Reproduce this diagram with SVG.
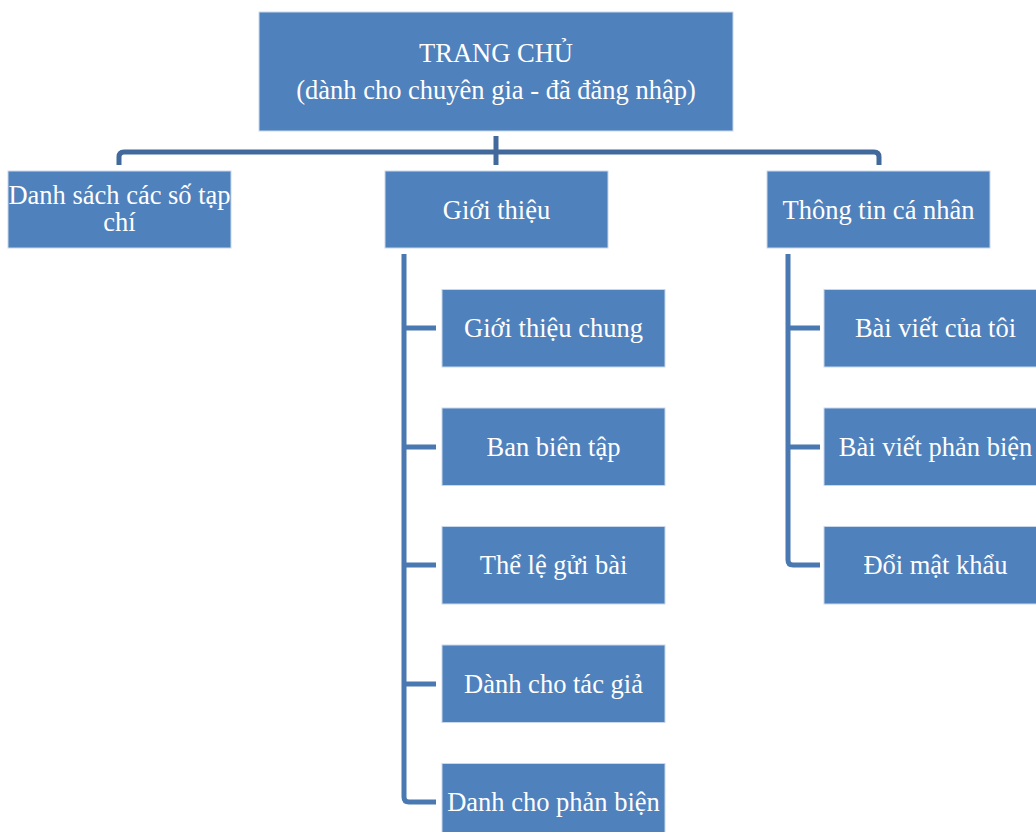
<svg xmlns="http://www.w3.org/2000/svg" width="1036" height="832" viewBox="0 0 1036 832">
  <style>
    .box { fill: #4f81bd; stroke: #c9d7ec; stroke-width: 1; }
    .lbl { font-family: "Liberation Serif", "Times New Roman", serif; font-size: 26.5px; fill: #ffffff; text-anchor: middle; }
    .trunk { fill: none; stroke: #41699b; stroke-width: 5; stroke-linejoin: round; }
    .branch { fill: none; stroke: #4a78b1; stroke-width: 5; stroke-linejoin: round; }
  </style>
  <rect width="1036" height="832" fill="#ffffff"/>

  <!-- connectors -->
  <g id="connectors">
    <path class="trunk" d="M119,165 V157 Q119,152 124,152 H874 Q879,152 879,157 V165"/>
    <path class="trunk" d="M496,136 V165"/>
    <!-- children of Giới thiệu -->
    <path class="branch" d="M404,254 V797 Q404,802 409,802 H436"/>
    <path class="branch" d="M404,328 H436 M404,447 H436 M404,565 H436 M404,684 H436"/>
    <!-- children of Thông tin cá nhân -->
    <path class="branch" d="M788,254 V560 Q788,565 793,565 H820"/>
    <path class="branch" d="M788,328 H820 M788,447 H820"/>
  </g>

  <g id="root">
    <rect class="box" x="259" y="12" width="474" height="119"/>
    <text class="lbl" x="496" y="62">TRANG CHỦ</text>
    <text class="lbl" x="496" y="99">(dành cho chuyên gia - đã đăng nhập)</text>
  </g>

  <g id="danh-sach">
    <rect class="box" x="8" y="171" width="223" height="77"/>
    <text class="lbl" x="119.5" y="204">Danh sách các số tạp</text>
    <text class="lbl" x="119.5" y="231">chí</text>
  </g>

  <g id="gioi-thieu">
    <rect class="box" x="385" y="171" width="223" height="77"/>
    <text class="lbl" x="496.5" y="219">Giới thiệu</text>
  </g>

  <g id="thong-tin">
    <rect class="box" x="767" y="171" width="223" height="77"/>
    <text class="lbl" x="878.5" y="219">Thông tin cá nhân</text>
  </g>

  <g id="gioi-thieu-chung">
    <rect class="box" x="442" y="289.5" width="223" height="77.5"/>
    <text class="lbl" x="553.5" y="337">Giới thiệu chung</text>
  </g>
  <g id="ban-bien-tap">
    <rect class="box" x="442" y="408" width="223" height="77.5"/>
    <text class="lbl" x="553.5" y="456">Ban biên tập</text>
  </g>
  <g id="the-le">
    <rect class="box" x="442" y="526.5" width="223" height="77.5"/>
    <text class="lbl" x="553.5" y="574">Thể lệ gửi bài</text>
  </g>
  <g id="tac-gia">
    <rect class="box" x="442" y="645" width="223" height="77.5"/>
    <text class="lbl" x="553.5" y="693">Dành cho tác giả</text>
  </g>
  <g id="phan-bien">
    <rect class="box" x="442" y="763.5" width="223" height="77.5"/>
    <text class="lbl" x="553.5" y="811">Danh cho phản biện</text>
  </g>

  <g id="bai-viet-cua-toi">
    <rect class="box" x="824" y="289.5" width="223" height="77.5"/>
    <text class="lbl" x="935.5" y="337">Bài viết của tôi</text>
  </g>
  <g id="bai-viet-phan-bien">
    <rect class="box" x="824" y="408" width="223" height="77.5"/>
    <text class="lbl" x="935.5" y="456">Bài viết phản biện</text>
  </g>
  <g id="doi-mat-khau">
    <rect class="box" x="824" y="526.5" width="223" height="77.5"/>
    <text class="lbl" x="935.5" y="574">Đổi mật khẩu</text>
  </g>
</svg>
